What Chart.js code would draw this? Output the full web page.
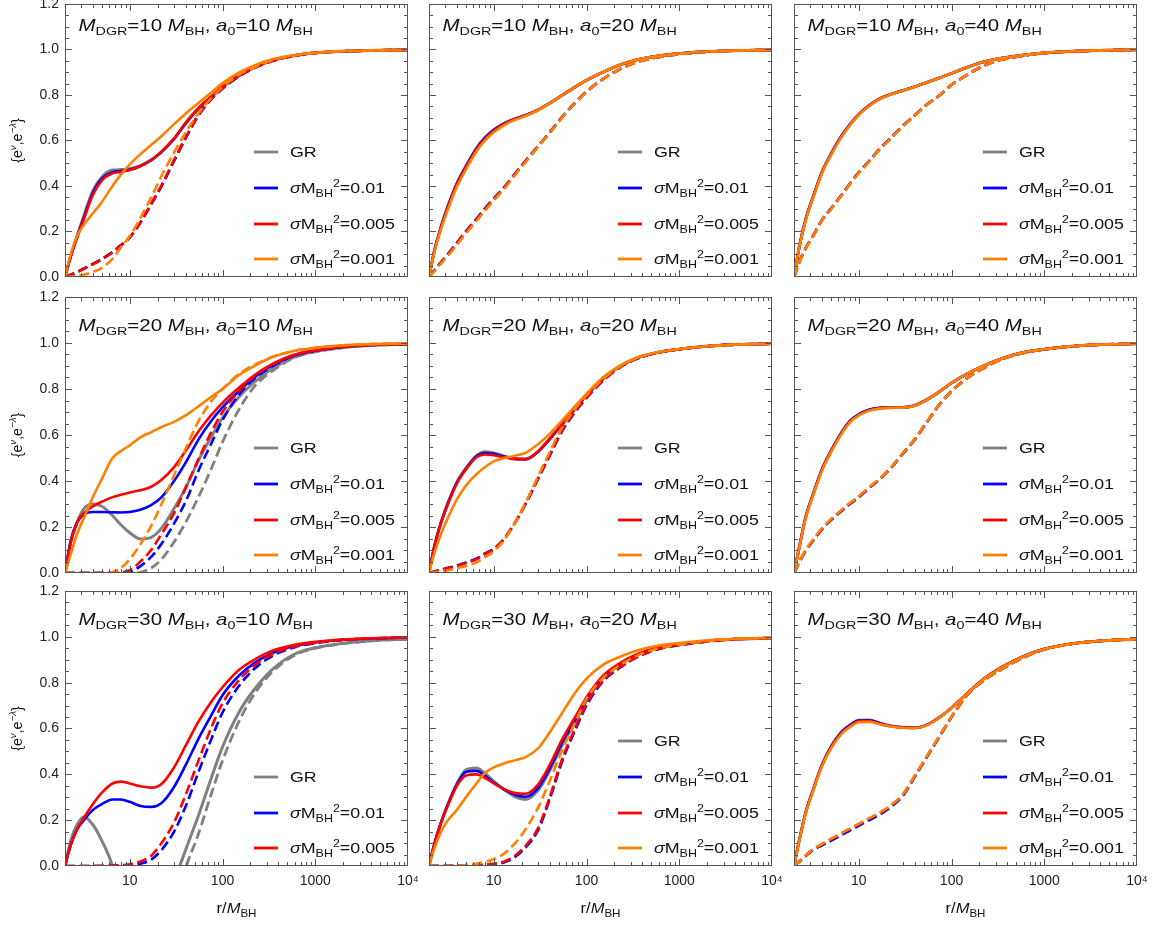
<!DOCTYPE html>
<html lang="en">
<head>
<meta charset="UTF-8">
<title>Metric functions e^nu and e^-lambda</title>
<script src="https://cdn.jsdelivr.net/npm/chart.js"></script>
<style>
  body { margin: 0; background: #fff; }
  #fig { position: relative; width: 1162px; height: 925px; overflow: hidden; }
  #fig canvas { position: absolute; }
</style>
</head>
<body>
<div id="fig"></div>
<script>
// ---- data ----
const r = [2, 2.3, 2.7, 3.2, 4, 5, 6.5, 8, 10, 13, 17, 22, 30, 40, 55, 75, 100, 150, 220, 350, 600, 1000, 2000, 4000, 10000];

const mDgr = [10, 20, 30];
const aZero = [10, 20, 40];
const sigmas = ['0.01', '0.005', '0.001'];
const yTicks = [0, 0.2, 0.4, 0.6, 0.8, 1.0, 1.2];
const xTicks = [10, 100, 1000, 10000];
const xTickLabels = ['10', '100', '1000', '10\u2074'];

// M_DGR = 10, a0 = 10
const nu_10_10_gr = [0, 0.09, 0.18, 0.27, 0.38, 0.44, 0.47, 0.472, 0.476, 0.49, 0.515, 0.55, 0.607, 0.675, 0.74, 0.79, 0.835, 0.885, 0.922, 0.953, 0.974, 0.985, 0.992, 0.996, 0.998];
const nu_10_10_s1 = [0, 0.09, 0.176, 0.262, 0.37, 0.432, 0.461, 0.466, 0.472, 0.488, 0.513, 0.55, 0.607, 0.675, 0.74, 0.79, 0.835, 0.885, 0.922, 0.953, 0.974, 0.985, 0.992, 0.996, 0.998];
const nu_10_10_s2 = [0, 0.088, 0.172, 0.255, 0.362, 0.425, 0.456, 0.462, 0.47, 0.487, 0.513, 0.551, 0.609, 0.678, 0.743, 0.792, 0.837, 0.886, 0.923, 0.953, 0.974, 0.985, 0.992, 0.996, 0.998];
const nu_10_10_s3 = [0, 0.1, 0.18, 0.23, 0.28, 0.33, 0.4, 0.45, 0.495, 0.54, 0.58, 0.62, 0.672, 0.718, 0.765, 0.81, 0.852, 0.898, 0.93, 0.958, 0.976, 0.986, 0.993, 0.996, 0.998];
const lam_10_10_gr = [0, 0.01, 0.022, 0.038, 0.058, 0.08, 0.11, 0.14, 0.175, 0.24, 0.32, 0.4, 0.51, 0.61, 0.71, 0.78, 0.828, 0.882, 0.919, 0.951, 0.973, 0.985, 0.992, 0.996, 0.998];
const lam_10_10_s1 = [0, 0.01, 0.022, 0.037, 0.057, 0.079, 0.109, 0.139, 0.174, 0.239, 0.32, 0.4, 0.511, 0.611, 0.711, 0.781, 0.829, 0.882, 0.919, 0.951, 0.973, 0.985, 0.992, 0.996, 0.998];
const lam_10_10_s2 = [0, 0.009, 0.021, 0.036, 0.056, 0.078, 0.108, 0.138, 0.174, 0.24, 0.322, 0.403, 0.514, 0.614, 0.713, 0.782, 0.83, 0.883, 0.92, 0.951, 0.973, 0.985, 0.992, 0.996, 0.998];
const lam_10_10_s3 = [0, 0.002, 0.005, 0.01, 0.022, 0.04, 0.08, 0.13, 0.18, 0.26, 0.35, 0.445, 0.548, 0.635, 0.72, 0.785, 0.835, 0.888, 0.922, 0.953, 0.974, 0.985, 0.992, 0.996, 0.998];

// M_DGR = 10, a0 = 20
const nu_10_20_gr = [0, 0.12, 0.222, 0.312, 0.412, 0.487, 0.566, 0.612, 0.647, 0.676, 0.696, 0.711, 0.735, 0.764, 0.8, 0.835, 0.865, 0.9, 0.93, 0.955, 0.972, 0.982, 0.991, 0.995, 0.998];
const nu_10_20_s1 = [0, 0.12, 0.221, 0.311, 0.411, 0.486, 0.565, 0.611, 0.646, 0.675, 0.695, 0.711, 0.735, 0.764, 0.8, 0.835, 0.865, 0.9, 0.93, 0.955, 0.972, 0.982, 0.991, 0.995, 0.998];
const nu_10_20_s2 = [0, 0.118, 0.218, 0.307, 0.407, 0.482, 0.561, 0.607, 0.643, 0.673, 0.694, 0.71, 0.734, 0.764, 0.8, 0.835, 0.865, 0.9, 0.93, 0.955, 0.972, 0.982, 0.991, 0.995, 0.998];
const nu_10_20_s3 = [0, 0.114, 0.211, 0.298, 0.397, 0.472, 0.552, 0.599, 0.636, 0.668, 0.691, 0.708, 0.733, 0.763, 0.8, 0.835, 0.865, 0.9, 0.93, 0.955, 0.972, 0.982, 0.991, 0.995, 0.998];
const lam_10_20_gr = [0, 0.03, 0.065, 0.1, 0.15, 0.2, 0.255, 0.3, 0.345, 0.395, 0.455, 0.51, 0.575, 0.635, 0.705, 0.765, 0.815, 0.87, 0.91, 0.945, 0.967, 0.98, 0.99, 0.995, 0.998];
const lam_10_20_s1 = [0, 0.03, 0.065, 0.1, 0.15, 0.2, 0.255, 0.3, 0.345, 0.395, 0.455, 0.51, 0.575, 0.635, 0.705, 0.765, 0.815, 0.87, 0.91, 0.945, 0.967, 0.98, 0.99, 0.995, 0.998];
const lam_10_20_s2 = [0, 0.029, 0.063, 0.098, 0.147, 0.197, 0.252, 0.297, 0.342, 0.393, 0.453, 0.508, 0.574, 0.634, 0.704, 0.764, 0.815, 0.87, 0.91, 0.945, 0.967, 0.98, 0.99, 0.995, 0.998];
const lam_10_20_s3 = [0, 0.027, 0.06, 0.094, 0.142, 0.191, 0.246, 0.291, 0.337, 0.388, 0.449, 0.505, 0.572, 0.633, 0.703, 0.764, 0.815, 0.87, 0.91, 0.945, 0.967, 0.98, 0.99, 0.995, 0.998];

// M_DGR = 10, a0 = 40
const nu_10_40_gr = [0, 0.14, 0.26, 0.35, 0.46, 0.54, 0.62, 0.67, 0.715, 0.755, 0.785, 0.803, 0.82, 0.836, 0.856, 0.876, 0.895, 0.923, 0.945, 0.962, 0.976, 0.985, 0.992, 0.996, 0.999];
const nu_10_40_s1 = [0, 0.14, 0.26, 0.35, 0.46, 0.54, 0.62, 0.67, 0.715, 0.755, 0.785, 0.803, 0.82, 0.836, 0.856, 0.876, 0.895, 0.923, 0.945, 0.962, 0.976, 0.985, 0.992, 0.996, 0.999];
const nu_10_40_s2 = [0, 0.139, 0.258, 0.348, 0.458, 0.538, 0.618, 0.668, 0.714, 0.754, 0.784, 0.803, 0.82, 0.836, 0.856, 0.876, 0.895, 0.923, 0.945, 0.962, 0.976, 0.985, 0.992, 0.996, 0.999];
const nu_10_40_s3 = [0, 0.137, 0.255, 0.345, 0.455, 0.535, 0.615, 0.666, 0.712, 0.753, 0.783, 0.802, 0.82, 0.836, 0.856, 0.876, 0.895, 0.923, 0.945, 0.962, 0.976, 0.985, 0.992, 0.996, 0.999];
const lam_10_40_gr = [0, 0.07, 0.13, 0.18, 0.25, 0.3, 0.36, 0.41, 0.46, 0.51, 0.565, 0.61, 0.665, 0.71, 0.76, 0.8, 0.845, 0.89, 0.928, 0.956, 0.973, 0.984, 0.992, 0.996, 0.999];
const lam_10_40_s1 = [0, 0.07, 0.13, 0.18, 0.25, 0.3, 0.36, 0.41, 0.46, 0.51, 0.565, 0.61, 0.665, 0.71, 0.76, 0.8, 0.845, 0.89, 0.928, 0.956, 0.973, 0.984, 0.992, 0.996, 0.999];
const lam_10_40_s2 = [0, 0.069, 0.129, 0.179, 0.249, 0.299, 0.359, 0.409, 0.459, 0.509, 0.564, 0.609, 0.664, 0.71, 0.76, 0.8, 0.845, 0.89, 0.928, 0.956, 0.973, 0.984, 0.992, 0.996, 0.999];
const lam_10_40_s3 = [0, 0.068, 0.128, 0.178, 0.248, 0.298, 0.358, 0.408, 0.458, 0.508, 0.563, 0.608, 0.663, 0.709, 0.759, 0.8, 0.845, 0.89, 0.928, 0.956, 0.973, 0.984, 0.992, 0.996, 0.999];

// M_DGR = 20, a0 = 10
const nu_20_10_gr = [0, 0.13, 0.22, 0.28, 0.3, 0.29, 0.25, 0.21, 0.175, 0.148, 0.155, 0.195, 0.28, 0.37, 0.49, 0.59, 0.675, 0.765, 0.83, 0.89, 0.94, 0.963, 0.98, 0.99, 0.995];
const nu_20_10_s1 = [0, 0.14, 0.22, 0.255, 0.265, 0.265, 0.264, 0.263, 0.265, 0.275, 0.295, 0.33, 0.4, 0.48, 0.58, 0.66, 0.72, 0.79, 0.85, 0.905, 0.947, 0.967, 0.983, 0.991, 0.996];
const nu_20_10_s2 = [0, 0.13, 0.22, 0.26, 0.29, 0.31, 0.33, 0.34, 0.35, 0.36, 0.375, 0.405, 0.46, 0.53, 0.615, 0.685, 0.74, 0.805, 0.86, 0.91, 0.95, 0.968, 0.984, 0.992, 0.996];
const nu_20_10_s3 = [0, 0.08, 0.17, 0.24, 0.33, 0.41, 0.5, 0.53, 0.555, 0.59, 0.612, 0.635, 0.657, 0.685, 0.725, 0.765, 0.8, 0.86, 0.9, 0.94, 0.966, 0.979, 0.99, 0.995, 0.998];
const lam_20_10_gr = [0, 0, 0, 0, 0, 0, 0, 0, 0, 0.003, 0.022, 0.06, 0.135, 0.22, 0.33, 0.45, 0.57, 0.71, 0.81, 0.88, 0.937, 0.961, 0.98, 0.99, 0.995];
const lam_20_10_s1 = [0, 0, 0, 0, 0, 0, 0, 0.001, 0.005, 0.03, 0.07, 0.127, 0.215, 0.31, 0.445, 0.56, 0.665, 0.775, 0.845, 0.9, 0.946, 0.966, 0.983, 0.991, 0.996];
const lam_20_10_s2 = [0, 0, 0, 0, 0, 0, 0.001, 0.003, 0.012, 0.05, 0.1, 0.17, 0.26, 0.37, 0.495, 0.61, 0.7, 0.79, 0.855, 0.907, 0.949, 0.968, 0.984, 0.992, 0.996];
const lam_20_10_s3 = [0, 0, 0, 0, 0, 0, 0.004, 0.022, 0.06, 0.125, 0.205, 0.3, 0.425, 0.54, 0.66, 0.745, 0.8, 0.865, 0.905, 0.94, 0.966, 0.979, 0.99, 0.995, 0.998];

// M_DGR = 20, a0 = 20
const nu_20_20_gr = [0, 0.12, 0.22, 0.305, 0.395, 0.455, 0.51, 0.527, 0.522, 0.508, 0.497, 0.495, 0.527, 0.582, 0.648, 0.713, 0.773, 0.844, 0.895, 0.935, 0.96, 0.973, 0.986, 0.993, 0.997];
const nu_20_20_s1 = [0, 0.12, 0.22, 0.303, 0.393, 0.453, 0.507, 0.522, 0.518, 0.506, 0.496, 0.495, 0.527, 0.582, 0.648, 0.713, 0.773, 0.844, 0.895, 0.935, 0.96, 0.973, 0.986, 0.993, 0.997];
const nu_20_20_s2 = [0, 0.12, 0.22, 0.3, 0.39, 0.45, 0.503, 0.515, 0.512, 0.503, 0.495, 0.495, 0.529, 0.585, 0.65, 0.715, 0.775, 0.845, 0.895, 0.935, 0.96, 0.973, 0.986, 0.993, 0.997];
const nu_20_20_s3 = [0, 0.09, 0.17, 0.24, 0.32, 0.38, 0.43, 0.46, 0.485, 0.5, 0.51, 0.522, 0.56, 0.605, 0.665, 0.725, 0.78, 0.85, 0.897, 0.936, 0.961, 0.974, 0.986, 0.993, 0.997];
const lam_20_20_gr = [0, 0.007, 0.014, 0.022, 0.032, 0.045, 0.062, 0.084, 0.105, 0.15, 0.22, 0.3, 0.41, 0.51, 0.62, 0.7, 0.762, 0.836, 0.89, 0.932, 0.959, 0.973, 0.986, 0.993, 0.997];
const lam_20_20_s1 = [0, 0.007, 0.014, 0.022, 0.032, 0.045, 0.062, 0.084, 0.105, 0.15, 0.22, 0.3, 0.41, 0.51, 0.62, 0.7, 0.762, 0.836, 0.89, 0.932, 0.959, 0.973, 0.986, 0.993, 0.997];
const lam_20_20_s2 = [0, 0.006, 0.013, 0.021, 0.031, 0.043, 0.06, 0.082, 0.104, 0.15, 0.221, 0.302, 0.412, 0.513, 0.623, 0.703, 0.764, 0.837, 0.89, 0.932, 0.959, 0.973, 0.986, 0.993, 0.997];
const lam_20_20_s3 = [0, 0.003, 0.007, 0.012, 0.02, 0.03, 0.046, 0.068, 0.095, 0.145, 0.22, 0.305, 0.42, 0.525, 0.635, 0.713, 0.772, 0.842, 0.893, 0.934, 0.96, 0.973, 0.986, 0.993, 0.997];

// M_DGR = 20, a0 = 40
const nu_20_40_gr = [0, 0.12, 0.25, 0.34, 0.45, 0.53, 0.61, 0.66, 0.69, 0.71, 0.718, 0.72, 0.72, 0.728, 0.755, 0.79, 0.826, 0.868, 0.9, 0.933, 0.96, 0.973, 0.986, 0.993, 0.997];
const nu_20_40_s1 = [0, 0.12, 0.25, 0.34, 0.45, 0.53, 0.61, 0.66, 0.69, 0.71, 0.718, 0.72, 0.72, 0.728, 0.755, 0.79, 0.826, 0.868, 0.9, 0.933, 0.96, 0.973, 0.986, 0.993, 0.997];
const nu_20_40_s2 = [0, 0.119, 0.248, 0.338, 0.448, 0.528, 0.608, 0.658, 0.688, 0.708, 0.717, 0.719, 0.72, 0.728, 0.755, 0.79, 0.826, 0.868, 0.9, 0.933, 0.96, 0.973, 0.986, 0.993, 0.997];
const nu_20_40_s3 = [0, 0.117, 0.245, 0.335, 0.444, 0.524, 0.604, 0.654, 0.685, 0.706, 0.715, 0.718, 0.719, 0.727, 0.755, 0.79, 0.826, 0.868, 0.9, 0.933, 0.96, 0.973, 0.986, 0.993, 0.997];
const lam_20_40_gr = [0, 0.05, 0.1, 0.14, 0.19, 0.23, 0.27, 0.3, 0.33, 0.37, 0.41, 0.455, 0.52, 0.58, 0.66, 0.735, 0.79, 0.85, 0.89, 0.93, 0.957, 0.972, 0.986, 0.993, 0.997];
const lam_20_40_s1 = [0, 0.05, 0.1, 0.14, 0.19, 0.23, 0.27, 0.3, 0.33, 0.37, 0.41, 0.455, 0.52, 0.58, 0.66, 0.735, 0.79, 0.85, 0.89, 0.93, 0.957, 0.972, 0.986, 0.993, 0.997];
const lam_20_40_s2 = [0, 0.051, 0.101, 0.142, 0.192, 0.232, 0.272, 0.302, 0.332, 0.372, 0.412, 0.456, 0.521, 0.581, 0.66, 0.735, 0.79, 0.85, 0.89, 0.93, 0.957, 0.972, 0.986, 0.993, 0.997];
const lam_20_40_s3 = [0, 0.052, 0.103, 0.144, 0.194, 0.234, 0.274, 0.304, 0.334, 0.374, 0.413, 0.457, 0.522, 0.582, 0.661, 0.735, 0.79, 0.85, 0.89, 0.93, 0.957, 0.972, 0.986, 0.993, 0.997];

// M_DGR = 30, a0 = 10 (no 0.001 curve in this panel)
const nu_30_10_gr = [0, 0.11, 0.18, 0.215, 0.18, 0.11, 0, -0.15, -0.3, -0.4, -0.42, -0.35, -0.08, 0.07, 0.22, 0.38, 0.52, 0.67, 0.77, 0.86, 0.925, 0.952, 0.972, 0.983, 0.99];
const nu_30_10_s1 = [0, 0.09, 0.16, 0.2, 0.245, 0.27, 0.29, 0.29, 0.28, 0.262, 0.258, 0.275, 0.345, 0.44, 0.555, 0.655, 0.745, 0.83, 0.885, 0.93, 0.96, 0.975, 0.987, 0.993, 0.997];
const nu_30_10_s2 = [0, 0.09, 0.16, 0.21, 0.27, 0.32, 0.36, 0.368, 0.36, 0.348, 0.342, 0.358, 0.43, 0.525, 0.63, 0.715, 0.78, 0.855, 0.9, 0.94, 0.965, 0.978, 0.988, 0.994, 0.997];
const lam_30_10_gr = [0, -0.05, -0.1, -0.15, -0.2, -0.25, -0.3, -0.33, -0.35, -0.36, -0.35, -0.32, -0.2, -0.01, 0.14, 0.31, 0.46, 0.63, 0.75, 0.85, 0.92, 0.95, 0.97, 0.982, 0.99];
const lam_30_10_s1 = [0, 0, 0, 0, 0, 0, 0.001, 0.002, 0.004, 0.01, 0.028, 0.07, 0.15, 0.26, 0.41, 0.55, 0.67, 0.785, 0.86, 0.918, 0.955, 0.972, 0.986, 0.993, 0.997];
const lam_30_10_s2 = [0, 0, 0, 0, 0, 0.001, 0.002, 0.004, 0.008, 0.02, 0.045, 0.1, 0.19, 0.31, 0.46, 0.6, 0.71, 0.81, 0.875, 0.925, 0.958, 0.974, 0.987, 0.993, 0.997];

// M_DGR = 30, a0 = 20
const nu_30_20_gr = [0, 0.1, 0.19, 0.27, 0.36, 0.42, 0.428, 0.405, 0.37, 0.333, 0.302, 0.29, 0.33, 0.415, 0.53, 0.625, 0.72, 0.82, 0.875, 0.92, 0.952, 0.967, 0.981, 0.989, 0.995];
const nu_30_20_s1 = [0, 0.1, 0.19, 0.27, 0.355, 0.41, 0.415, 0.395, 0.363, 0.333, 0.31, 0.302, 0.34, 0.425, 0.54, 0.635, 0.727, 0.825, 0.878, 0.922, 0.953, 0.968, 0.982, 0.99, 0.995];
const nu_30_20_s2 = [0, 0.1, 0.19, 0.265, 0.35, 0.395, 0.4, 0.385, 0.36, 0.335, 0.318, 0.315, 0.355, 0.44, 0.555, 0.648, 0.737, 0.83, 0.881, 0.924, 0.954, 0.968, 0.982, 0.99, 0.995];
const nu_30_20_s3 = [0, 0.08, 0.15, 0.2, 0.245, 0.3, 0.36, 0.405, 0.43, 0.448, 0.462, 0.475, 0.513, 0.583, 0.67, 0.755, 0.818, 0.878, 0.91, 0.94, 0.962, 0.973, 0.985, 0.991, 0.996];
const lam_30_20_gr = [0, 0, 0, 0, 0.001, 0.002, 0.003, 0.005, 0.008, 0.016, 0.04, 0.08, 0.155, 0.29, 0.46, 0.59, 0.7, 0.805, 0.86, 0.912, 0.947, 0.964, 0.98, 0.99, 0.995];
const lam_30_20_s1 = [0, 0, 0, 0, 0.001, 0.002, 0.003, 0.005, 0.008, 0.017, 0.041, 0.082, 0.158, 0.293, 0.463, 0.593, 0.702, 0.806, 0.861, 0.912, 0.947, 0.964, 0.98, 0.99, 0.995];
const lam_30_20_s2 = [0, 0, 0, 0, 0.001, 0.002, 0.003, 0.006, 0.01, 0.02, 0.046, 0.088, 0.165, 0.3, 0.47, 0.6, 0.707, 0.809, 0.863, 0.913, 0.948, 0.965, 0.98, 0.99, 0.995];
const lam_30_20_s3 = [0, 0, 0, 0.001, 0.002, 0.004, 0.01, 0.018, 0.03, 0.055, 0.1, 0.16, 0.255, 0.37, 0.51, 0.625, 0.73, 0.82, 0.872, 0.918, 0.95, 0.966, 0.981, 0.99, 0.996];

// M_DGR = 30, a0 = 40
const nu_30_40_gr = [0, 0.12, 0.24, 0.33, 0.44, 0.52, 0.585, 0.615, 0.636, 0.637, 0.623, 0.612, 0.605, 0.603, 0.617, 0.65, 0.69, 0.755, 0.815, 0.868, 0.915, 0.947, 0.97, 0.982, 0.99];
const nu_30_40_s1 = [0, 0.12, 0.24, 0.33, 0.44, 0.519, 0.584, 0.614, 0.635, 0.636, 0.622, 0.611, 0.605, 0.603, 0.617, 0.65, 0.69, 0.755, 0.815, 0.868, 0.915, 0.947, 0.97, 0.982, 0.99];
const nu_30_40_s2 = [0, 0.119, 0.238, 0.328, 0.437, 0.516, 0.58, 0.61, 0.631, 0.632, 0.62, 0.61, 0.604, 0.602, 0.617, 0.65, 0.69, 0.755, 0.815, 0.868, 0.915, 0.947, 0.97, 0.982, 0.99];
const nu_30_40_s3 = [0, 0.118, 0.236, 0.325, 0.434, 0.512, 0.576, 0.606, 0.627, 0.629, 0.618, 0.609, 0.603, 0.602, 0.616, 0.649, 0.689, 0.754, 0.814, 0.867, 0.914, 0.946, 0.97, 0.982, 0.99];
const lam_30_40_gr = [0, 0.02, 0.045, 0.07, 0.09, 0.11, 0.135, 0.155, 0.175, 0.2, 0.225, 0.256, 0.307, 0.388, 0.48, 0.568, 0.65, 0.75, 0.808, 0.86, 0.91, 0.945, 0.97, 0.982, 0.99];
const lam_30_40_s1 = [0, 0.02, 0.045, 0.07, 0.09, 0.111, 0.136, 0.156, 0.177, 0.202, 0.227, 0.258, 0.309, 0.389, 0.48, 0.568, 0.65, 0.75, 0.808, 0.86, 0.91, 0.945, 0.97, 0.982, 0.99];
const lam_30_40_s2 = [0, 0.021, 0.047, 0.073, 0.095, 0.117, 0.142, 0.162, 0.183, 0.208, 0.233, 0.263, 0.313, 0.392, 0.482, 0.569, 0.651, 0.75, 0.808, 0.86, 0.91, 0.945, 0.97, 0.982, 0.99];
const lam_30_40_s3 = [0, 0.021, 0.047, 0.073, 0.096, 0.118, 0.143, 0.163, 0.184, 0.209, 0.234, 0.264, 0.314, 0.393, 0.483, 0.57, 0.651, 0.75, 0.808, 0.86, 0.91, 0.945, 0.97, 0.982, 0.99];

// panels[row][col] = { nu: [...], lam: [...] }  (order: GR, 0.01, 0.005, 0.001)
const panels = [
  [
    { nu: [nu_10_10_gr, nu_10_10_s1, nu_10_10_s2, nu_10_10_s3], lam: [lam_10_10_gr, lam_10_10_s1, lam_10_10_s2, lam_10_10_s3] },
    { nu: [nu_10_20_gr, nu_10_20_s1, nu_10_20_s2, nu_10_20_s3], lam: [lam_10_20_gr, lam_10_20_s1, lam_10_20_s2, lam_10_20_s3] },
    { nu: [nu_10_40_gr, nu_10_40_s1, nu_10_40_s2, nu_10_40_s3], lam: [lam_10_40_gr, lam_10_40_s1, lam_10_40_s2, lam_10_40_s3] }
  ],
  [
    { nu: [nu_20_10_gr, nu_20_10_s1, nu_20_10_s2, nu_20_10_s3], lam: [lam_20_10_gr, lam_20_10_s1, lam_20_10_s2, lam_20_10_s3] },
    { nu: [nu_20_20_gr, nu_20_20_s1, nu_20_20_s2, nu_20_20_s3], lam: [lam_20_20_gr, lam_20_20_s1, lam_20_20_s2, lam_20_20_s3] },
    { nu: [nu_20_40_gr, nu_20_40_s1, nu_20_40_s2, nu_20_40_s3], lam: [lam_20_40_gr, lam_20_40_s1, lam_20_40_s2, lam_20_40_s3] }
  ],
  [
    { nu: [nu_30_10_gr, nu_30_10_s1, nu_30_10_s2], lam: [lam_30_10_gr, lam_30_10_s1, lam_30_10_s2] },
    { nu: [nu_30_20_gr, nu_30_20_s1, nu_30_20_s2, nu_30_20_s3], lam: [lam_30_20_gr, lam_30_20_s1, lam_30_20_s2, lam_30_20_s3] },
    { nu: [nu_30_40_gr, nu_30_40_s1, nu_30_40_s2, nu_30_40_s3], lam: [lam_30_40_gr, lam_30_40_s1, lam_30_40_s2, lam_30_40_s3] }
  ]
];

// ---- styles and layout ----
const colors = ['#808080', '#0000ff', '#ff0000', '#ff8000'];
const FONT = '"Liberation Sans", Arial, Helvetica, sans-serif';
const FRAME = '#555555';
const TEXT = '#111111';

const areaLeft = [65, 429, 794];
const areaW = 343;
const areaTop = [4, 297, 591];
const areaH = [273, 276, 275];
const padL = [64, 10, 10];
const padR = [10, 10, 14];
const padT = [4, 10, 10];
const padB = [10, 8, 59];
const titleDy = [27, 34, 34];
const legendSlots = [125, 89, 53, 18];

// rich text: parts = [[text, kind]], kind: n, i, sub, sup, isup
function partFont(kind, size) {
  const small = kind.indexOf('sub') >= 0 || kind.indexOf('sup') >= 0;
  const fs = small ? size * 0.7 : size;
  const it = kind === 'i' || kind === 'isup' || kind === 'isub';
  return (it ? 'italic ' : '') + fs.toFixed(2) + 'px ' + FONT;
}
function richWidth(ctx, parts, size) {
  let w = 0;
  for (const [t, k] of parts) { ctx.font = partFont(k, size); w += ctx.measureText(t).width; }
  return w;
}
function drawRich(ctx, parts, x, y, size, sx) {
  ctx.save();
  ctx.translate(x, y);
  ctx.scale(sx, 1);
  ctx.textBaseline = 'alphabetic';
  ctx.textAlign = 'left';
  let cx = 0;
  for (const [t, k] of parts) {
    ctx.font = partFont(k, size);
    let dy = 0;
    if (k.indexOf('sub') >= 0) dy = size * 0.24;
    if (k.indexOf('sup') >= 0) dy = -size * 0.42;
    ctx.fillText(t, cx, dy);
    cx += ctx.measureText(t).width;
  }
  ctx.restore();
}

function legendParts(k) {
  if (k === 0) return [['GR', 'n']];
  return [['\u03c3', 'i'], ['M', 'n'], ['BH', 'sub'], ['2', 'sup'], ['=' + sigmas[k - 1], 'n']];
}

const panelInfo = {};

const decoPlugin = {
  id: 'deco',
  afterDraw(chart) {
    const info = panelInfo[chart.canvas.id];
    if (!info) return;
    const ctx = chart.ctx, a = chart.chartArea;
    const xs = chart.scales.x, ys = chart.scales.y;
    ctx.save();

    // inward frame ticks on all four sides
    ctx.strokeStyle = FRAME;
    ctx.lineWidth = 1;
    ctx.beginPath();
    for (let e = 0; e <= 4; e++) {
      for (let m = 1; m <= 9; m++) {
        const v = m * Math.pow(10, e);
        if (v <= 2 || v >= 10000) continue;
        const px = Math.round(xs.getPixelForValue(v)) + 0.5;
        const len = m === 1 ? 7 : 4;
        ctx.moveTo(px, a.bottom); ctx.lineTo(px, a.bottom - len);
        ctx.moveTo(px, a.top); ctx.lineTo(px, a.top + len);
      }
    }
    for (let i = 1; i < 24; i++) {
      const py = Math.round(ys.getPixelForValue(i * 0.05)) + 0.5;
      const len = i % 4 === 0 ? 7 : 4;
      ctx.moveTo(a.left, py); ctx.lineTo(a.left + len, py);
      ctx.moveTo(a.right, py); ctx.lineTo(a.right - len, py);
    }
    ctx.stroke();
    ctx.strokeRect(Math.round(a.left) + 0.5, Math.round(a.top) + 0.5, Math.round(a.right - a.left) - 1, Math.round(a.bottom - a.top) - 1);

    // panel title
    ctx.fillStyle = TEXT;
    const title = [['M', 'i'], ['DGR', 'sub'], ['=' + info.m + ' ', 'n'], ['M', 'i'], ['BH', 'sub'],
                   [', ', 'n'], ['a', 'i'], ['0', 'sub'], ['=' + info.a0 + ' ', 'n'], ['M', 'i'], ['BH', 'sub']];
    drawRich(ctx, title, a.left + 13.5, a.top + titleDy[info.row], 16.5, 1.24);

    // legend
    const n = info.count;
    for (let k = 0; k < n; k++) {
      const y = a.bottom - legendSlots[4 - n + k];
      ctx.strokeStyle = colors[k];
      ctx.lineWidth = 2.8;
      ctx.beginPath();
      ctx.moveTo(a.left + 189, y); ctx.lineTo(a.left + 213, y);
      ctx.stroke();
      ctx.fillStyle = TEXT;
      drawRich(ctx, legendParts(k), a.left + 225, y + 5.2, 14.5, 1.23);
    }

    // x axis title
    if (info.row === 2) {
      const parts = [['r/', 'n'], ['M', 'i'], ['BH', 'sub']];
      const sx = 1.1;
      const w = richWidth(ctx, parts, 15) * sx;
      drawRich(ctx, parts, (a.left + a.right) / 2 - w / 2, a.bottom + 47, 15, sx);
    }
    // y axis title
    if (info.col === 0) {
      const parts = [['{e', 'n'], ['\u03bd', 'isup'], [',e', 'n'], ['\u2212\u03bb', 'isup'], ['}', 'n']];
      const w = richWidth(ctx, parts, 14);
      ctx.save();
      ctx.translate(21, (a.top + a.bottom) / 2);
      ctx.rotate(-Math.PI / 2);
      drawRich(ctx, parts, -w / 2, 0, 14, 1);
      ctx.restore();
    }
    ctx.restore();
  }
};

const fig = document.getElementById('fig');

for (let row = 0; row < 3; row++) {
  for (let col = 0; col < 3; col++) {
    const p = panels[row][col];
    const cv = document.createElement('canvas');
    cv.id = 'panel' + row + col;
    const w = areaW + padL[col] + padR[col];
    const h = areaH[row] + padT[row] + padB[row];
    cv.width = w; cv.height = h;
    cv.style.width = w + 'px'; cv.style.height = h + 'px';
    cv.style.left = (areaLeft[col] - padL[col]) + 'px';
    cv.style.top = (areaTop[row] - padT[row]) + 'px';
    fig.appendChild(cv);
    panelInfo[cv.id] = { row: row, col: col, m: mDgr[row], a0: aZero[col], count: p.nu.length };

    const datasets = [];
    for (let k = 0; k < p.nu.length; k++) {
      datasets.push({
        data: r.map((x, i) => ({ x: x, y: p.nu[k][i] })),
        borderColor: colors[k],
        borderWidth: k === 0 ? 3 : 2.6,
        order: 10 - 2 * k
      });
      datasets.push({
        data: r.map((x, i) => ({ x: x, y: p.lam[k][i] })),
        borderColor: colors[k],
        borderWidth: k === 0 ? 2.8 : 2.6,
        borderDash: [10, 4.5],
        order: 9 - 2 * k
      });
    }

    const tickFont = { family: FONT, size: 14 };
    new Chart(cv, {
      type: 'line',
      data: { datasets: datasets },
      options: {
        responsive: false,
        animation: false,
        devicePixelRatio: 1,
        layout: { padding: { top: padT[row], right: padR[col], left: 0, bottom: 0 } },
        plugins: { legend: { display: false }, tooltip: { enabled: false } },
        elements: {
          point: { radius: 0 },
          line: { cubicInterpolationMode: 'monotone', fill: false, borderCapStyle: 'butt' }
        },
        scales: {
          x: {
            type: 'logarithmic', min: 2, max: 10000,
            grid: { display: false, drawTicks: false },
            border: { display: false },
            afterBuildTicks: s => { s.ticks = xTicks.map(v => ({ value: v })); },
            ticks: {
              display: row === 2, autoSkip: false, maxRotation: 0, padding: 7,
              color: '#222', font: tickFont,
              callback: v => { const i = xTicks.indexOf(v); return i >= 0 ? xTickLabels[i] : ''; }
            },
            afterFit: s => { s.height = padB[row]; s.paddingLeft = 0; s.paddingRight = 0; }
          },
          y: {
            type: 'linear', min: 0, max: 1.2,
            grid: { display: false, drawTicks: false },
            border: { display: false },
            afterBuildTicks: s => { s.ticks = yTicks.map(v => ({ value: v })); },
            ticks: {
              display: col === 0, autoSkip: false, padding: 6,
              color: '#222', font: tickFont,
              callback: v => Number(v).toFixed(1)
            },
            afterFit: s => { s.width = padL[col]; s.paddingTop = 0; s.paddingBottom = 0; }
          }
        }
      },
      plugins: [decoPlugin]
    });
  }
}
</script>
</body>
</html>
